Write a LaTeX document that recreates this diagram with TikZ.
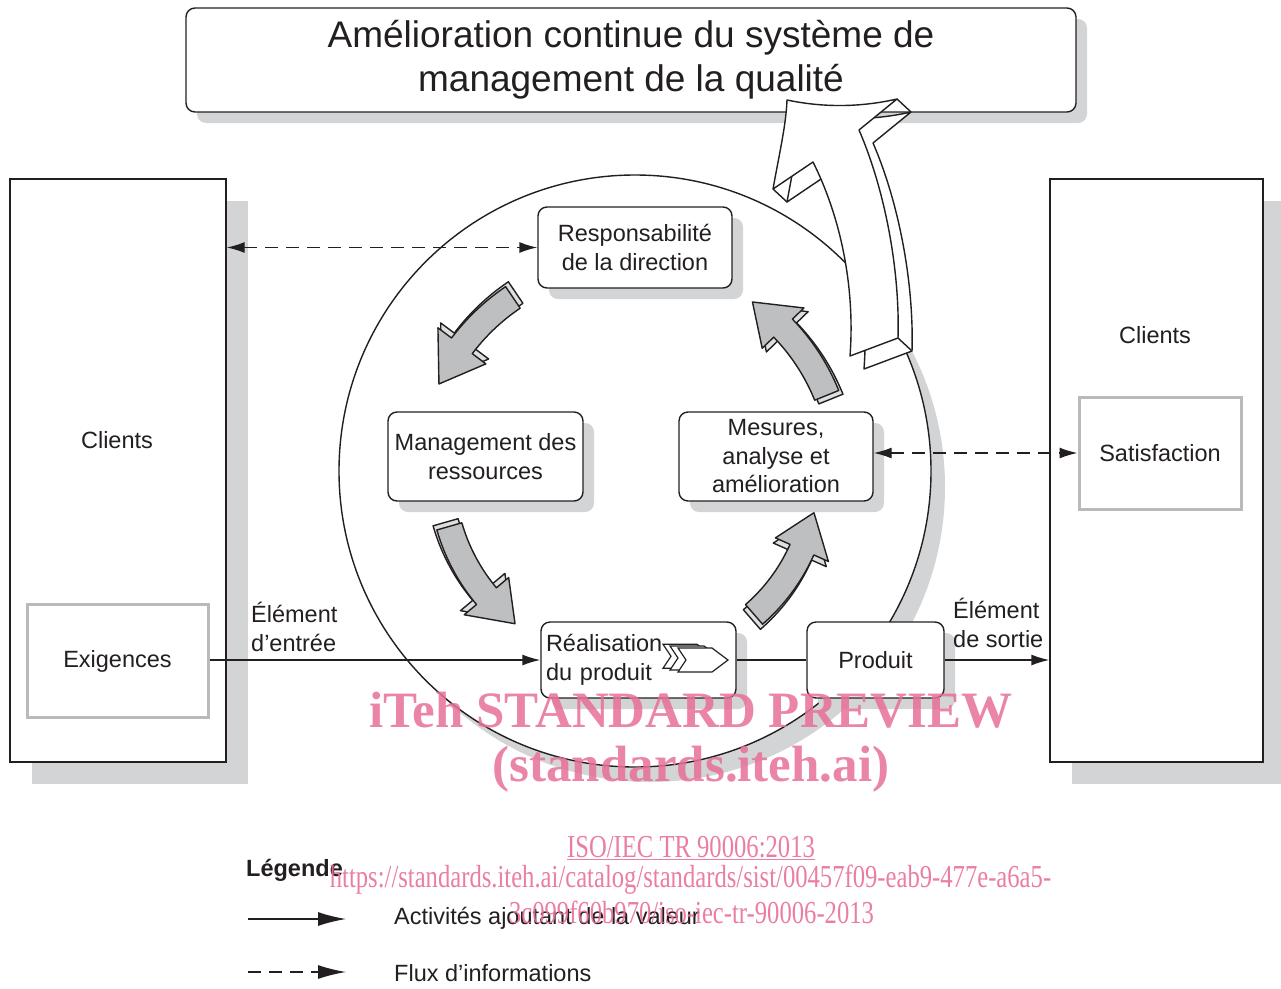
\documentclass[tikz,border=0pt]{standalone}
\usepackage{fontspec}
\setmainfont{Liberation Sans}
\newfontfamily\wmfont{Liberation Serif}
\usetikzlibrary{arrows.meta,calc,shadows}
\definecolor{shadowc}{RGB}{211,212,214}
\definecolor{ink}{RGB}{35,31,32}
\definecolor{boxgray}{RGB}{185,186,188}
\definecolor{arrowgray}{RGB}{190,191,193}
\definecolor{arrowlight}{RGB}{222,223,225}
\definecolor{wmpink}{RGB}{232,112,152}

% curved 3D arrow outline: r, tail angle, head-base angle, tip angle, half shaft width, half head width
\newcommand{\bentpath}[6]{%
 plot[domain=#2:#3,samples=24] ({632+(#1+#5)*cos(\x)},{474+(#1+#5)*sin(\x)})
 -- ({632+(#1+#6)*cos(#3)},{474+(#1+#6)*sin(#3)})
 -- ({632+#1*cos(#4)},{474+#1*sin(#4)})
 -- ({632+(#1-#6)*cos(#3)},{474+(#1-#6)*sin(#3)})
 -- plot[domain=#3:#2,samples=24] ({632+(#1-#5)*cos(\x)},{474+(#1-#5)*sin(\x)})
 -- cycle}
\newcommand{\bigarrowpath}{(787,100) .. controls (825,108) and (862,107) .. (897,99) -- (859,130) .. controls (885,190) and (900,270) .. (898,338) -- (850,356) .. controls (855,290) and (842,220) .. (813,162) -- (773,189) .. controls (780,150) and (786,125) .. (787,100) -- cycle}
\newcommand{\chevpath}{(678,648) -- (712,648) -- (728,660) -- (712,672) -- (678,672) -- (686,660) -- cycle}

\begin{document}
\begin{tikzpicture}[x=1pt,y=-1pt,
  >={Latex[length=18pt,width=11pt]},
  txt/.style={font=\fontsize{23.5}{28.5}\selectfont, text=ink, align=center},
  lbl/.style={txt, inner sep=0pt},
  pbox/.style={txt, draw=ink, line width=1.4pt, fill=white, rounded corners=9pt},
  sbox/.style={draw=ink, line width=1.4pt, fill=white},
  gbox/.style={txt, draw=boxgray, line width=3pt, fill=white},
  nshad/.style={drop shadow={shadow xshift=11pt,shadow yshift=-11pt,fill=shadowc,opacity=1}},
  bshad/.style={drop shadow={shadow xshift=22pt,shadow yshift=-22pt,fill=shadowc,opacity=1}},
  flow/.style={draw=ink, line width=1.4pt, ->},
  info/.style={flow, dash pattern=on 13pt off 8pt},
  legtip/.style={-{Latex[length=28pt,width=14pt]}},
  cface/.style={fill=arrowgray, draw=ink, line width=1.4pt, line join=round},
  cside/.style={fill=arrowlight, draw=ink, line width=1.4pt, line join=round},
  bigface/.style={fill=white, draw=ink, line width=1.4pt, line join=round},
  wmbig/.style={font=\wmfont\bfseries\fontsize{51}{51}\selectfont, text=wmpink, text opacity=.85},
  wmsmall/.style={font=\wmfont\fontsize{32}{32}\selectfont, text=wmpink, text opacity=.9}
]
\useasboundingbox (0,0) rectangle (1281,988);

% title
\node[pbox, nshad, font=\fontsize{37}{44}\selectfont, minimum width=890pt, minimum height=104pt] (title) at (631,60) {Amélioration continue du système de\\management de la qualité};

% customer boxes
\node[sbox, bshad, minimum width=216pt, minimum height=583pt] (cl) at (118,470.5) {};
\node[lbl] (clt) at (117,440) {Clients};
\node[gbox, minimum width=181pt, minimum height=113pt] (exig) at (117.5,661) {Exigences};

\node[sbox, bshad, minimum width=213pt, minimum height=583pt] (cr) at (1156.5,470.5) {};
\node[lbl] (crt) at (1155,335) {Clients};
\node[gbox, minimum width=162pt, minimum height=112pt] (sat) at (1160,453) {Satisfaction};

% circle
\fill[shadowc] (650,487) circle (295);
\draw[fill=white, draw=ink, line width=1.4pt] (635,471) circle (296);

% big improvement arrow
\filldraw[bigface, shift={(14,13)}] \bigarrowpath;
\filldraw[bigface] \bigarrowpath;
\draw[ink, line width=1.4pt] (897,99) -- (911,112) (773,189) -- (787,202) (898,338) -- (912,351);

% cycle arrows
\filldraw[cside, shift={(2.75,-4.87)}] \bentpath{213}{236}{217}{205}{13}{30};
\filldraw[cface] \bentpath{213}{236}{217}{205}{13}{30};
\filldraw[cside, shift={(-3.78,-4.12)}] \bentpath{190}{164}{140}{128}{13}{29};
\filldraw[cface] \bentpath{190}{164}{140}{128}{13}{29};
\filldraw[cside, shift={(4.19,3.70)}] \bentpath{210}{338}{316}{305}{13}{29};
\filldraw[cface] \bentpath{210}{338}{316}{305}{13}{29};
\filldraw[cside, shift={(-2.14,5.17)}] \bentpath{186}{49}{24}{12}{13}{29};
\filldraw[cface] \bentpath{186}{49}{24}{12}{13}{29};

% process nodes
\node[pbox, nshad, minimum width=194pt, minimum height=81pt] (resp) at (635,247.5) {Responsabilité\\de la direction};
\node[pbox, nshad, minimum width=195pt, minimum height=89pt] (mgmt) at (485.5,456.5) {Management des\\ressources};
\node[pbox, nshad, minimum width=194pt, minimum height=89pt] (mes) at (776,456.5) {Mesures,\\analyse et\\amélioration};
\node[pbox, nshad, minimum width=195pt, minimum height=76pt, align=left, text width=185pt, inner xsep=5pt] (real) at (638.5,660) {Réalisation\\du produit};
\node[pbox, nshad, minimum width=137pt, minimum height=76pt] (prod) at (875.5,660) {Produit};

% chevrons
\foreach \s in {-15,-8,0}{
  \filldraw[fill=white, draw=ink, line width=1.2pt, line join=miter, shift={(\s,{\s/4})}] \chevpath;
}

% connectors
\draw[info, <->] (resp.west -| cl.east) -- (resp.west);
\draw[info, <->] (mes.east |- sat.west) -- (sat.west);
\draw[flow] (exig.east |- real.west) -- (real.west);
\draw[draw=ink, line width=1.4pt] (real.east) -- (prod.west);
\draw[flow] (prod.east) -- (prod.east -| cr.west);

\node[lbl, anchor=west, align=left] (inlbl) at (251,627) {Élément\\d’entrée};
\node[lbl, anchor=west, align=left] (outlbl) at (953,623) {Élément\\de sortie};

% legend
\node[lbl, anchor=west, font=\bfseries\fontsize{23.5}{28}\selectfont] (leg) at (246,870) {Légende};
\coordinate (la1) at (248,919);
\coordinate (lb1) at (346,919);
\coordinate (la2) at (248,972);
\coordinate (lb2) at (346,972);
\draw[flow, legtip] (la1) -- (lb1);
\draw[info, legtip] (la2) -- (lb2);
\node[lbl, anchor=west] (leg1) at (394,918) {Activités ajoutant de la valeur};
\node[lbl, anchor=west] (leg2) at (394,973) {Flux d’informations};

% watermark
\node[wmbig] (wm1) at (691,710) {iTeh STANDARD PREVIEW};
\node[wmbig] (wm2) at (691,769) {(standards.iteh.ai)};
\node[wmsmall] (wm3) at (691,848) {\scalebox{0.77}[1]{\underline{ISO/IEC TR 90006:2013}}};
\node[wmsmall] (wm4) at (690.5,880) {\scalebox{0.77}[1]{https://standards.iteh.ai/catalog/standards/sist/00457f09-eab9-477e-a6a5-}};
\node[wmsmall] (wm5) at (691.5,912) {\scalebox{0.77}[1]{3c099f60b970/iso-iec-tr-90006-2013}};
\end{tikzpicture}
\end{document}
